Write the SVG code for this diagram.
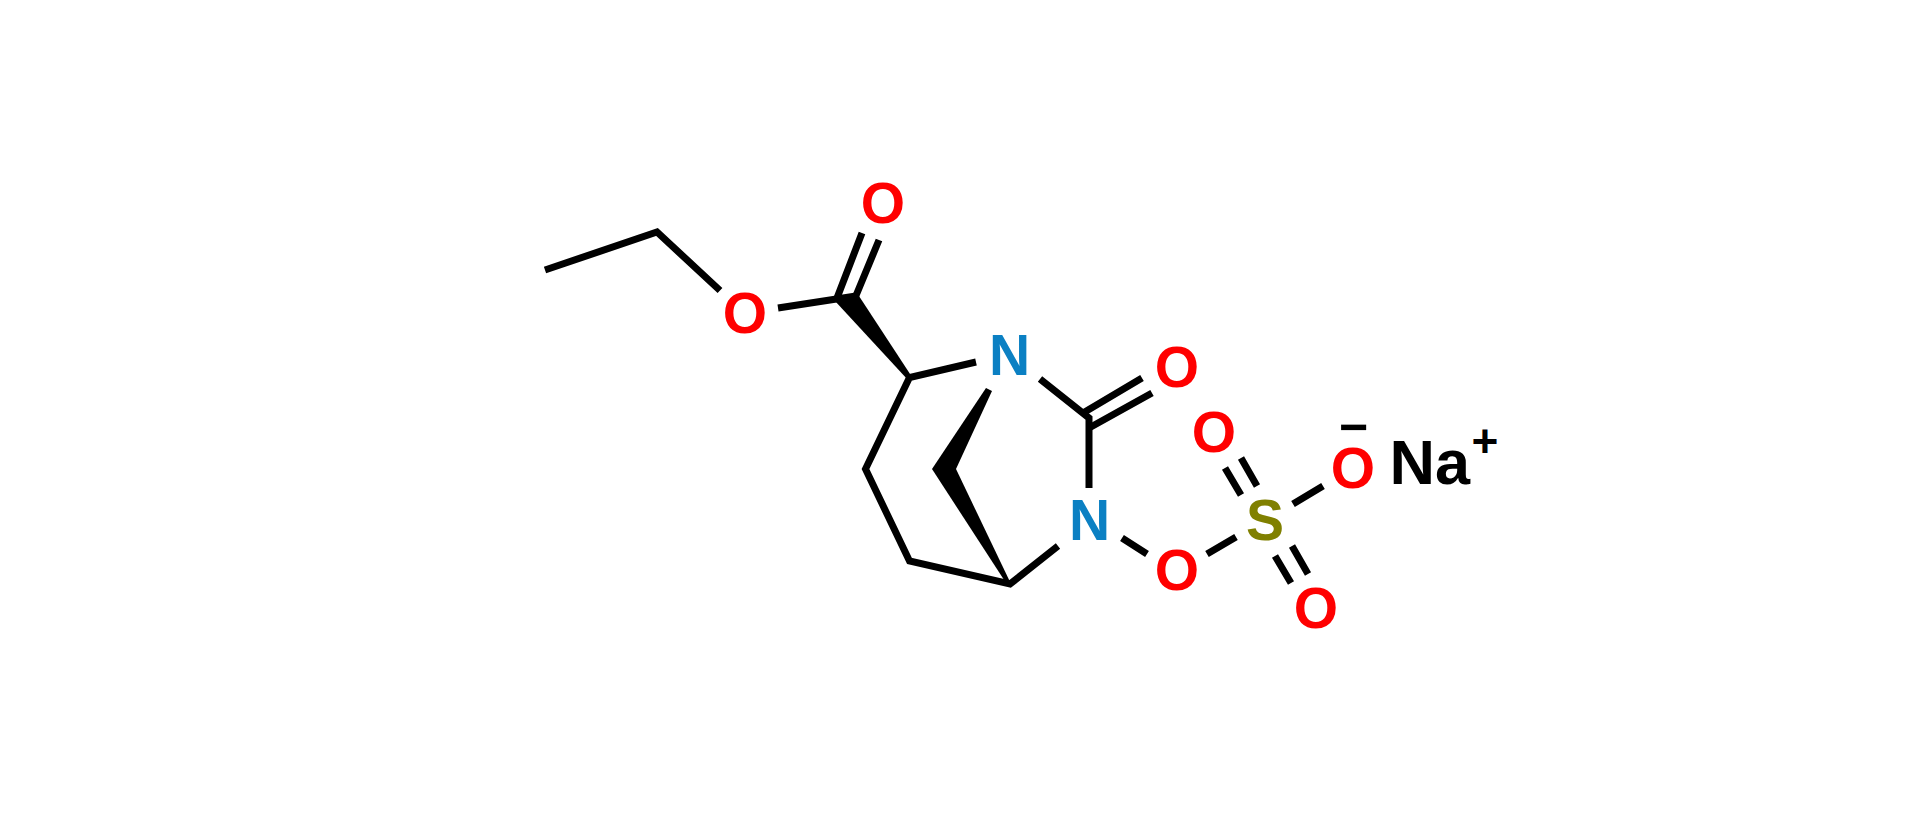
<svg xmlns="http://www.w3.org/2000/svg" width="1920" height="818" viewBox="0 0 1920 818">
<style>
.b{stroke:#000;stroke-width:7;fill:none;stroke-linejoin:miter}
.w{fill:#000;stroke:none}
text{font-family:"Liberation Sans",Arial,sans-serif;font-weight:700;font-size:57px}
.c{text-anchor:middle}
.o{fill:#f00}.n{fill:#0b80c3}.s{fill:#808000}.k{fill:#000}
</style>
<rect width="1920" height="818" fill="#fff"/>
<g id="connectors">
<path class="b" d="M545 270L657 232L720 290.500"/>
<path class="b" d="M778 308L856 296"/>
<path class="b" d="M862 233L837 298M879 240L855 298"/>
<path class="w" d="M835 301L857 293L912 377L908 380Z"/>
<path class="b" d="M976 362L909.500 377.500L865.500 469L909.500 561L1010 584L1058 546"/>
<path class="b" d="M1040 379L1089 418V488"/>
<path class="b" d="M1083 413L1142 378M1089 428L1152 393"/>
<path class="w" d="M932 469L986 388L992 391L956 469Z"/>
<path class="w" d="M932 469L956 469L1012 586L1008 586Z"/>
<path class="b" d="M1122 538L1147 554M1207 554L1236 537"/>
<path class="b" d="M1225 468L1241 495M1241 458L1257 486M1275 556L1291 583M1292 546L1308 574M1293 504L1323 486"/>
</g>
<g id="atom-o1"><text class="c o" x="883" y="223">O</text></g>
<g id="atom-o2"><text class="c o" x="745" y="333">O</text></g>
<g id="atom-n1"><text class="c n" x="1009.500" y="374.500">N</text></g>
<g id="atom-o3"><text class="c o" x="1177" y="387">O</text></g>
<g id="atom-n2"><text class="c n" x="1089.500" y="539.500">N</text></g>
<g id="atom-o4"><text class="c o" x="1177" y="590">O</text></g>
<g id="atom-s"><text class="c s" x="1265" y="539.500">S</text></g>
<g id="atom-o5"><text class="c o" x="1214" y="452">O</text></g>
<g id="atom-o6"><text class="c o" x="1316" y="628">O</text></g>
<g id="atom-o7"><text class="c o" x="1353" y="488">O</text><text class="c k" x="1353.500" y="444" style="font-size:50px">−</text></g>
<g id="ion-na"><text class="k" x="1389.500" y="484" style="font-size:63px">Na</text><text class="c k" x="1485" y="457" style="font-size:46px">+</text></g>
</svg>
